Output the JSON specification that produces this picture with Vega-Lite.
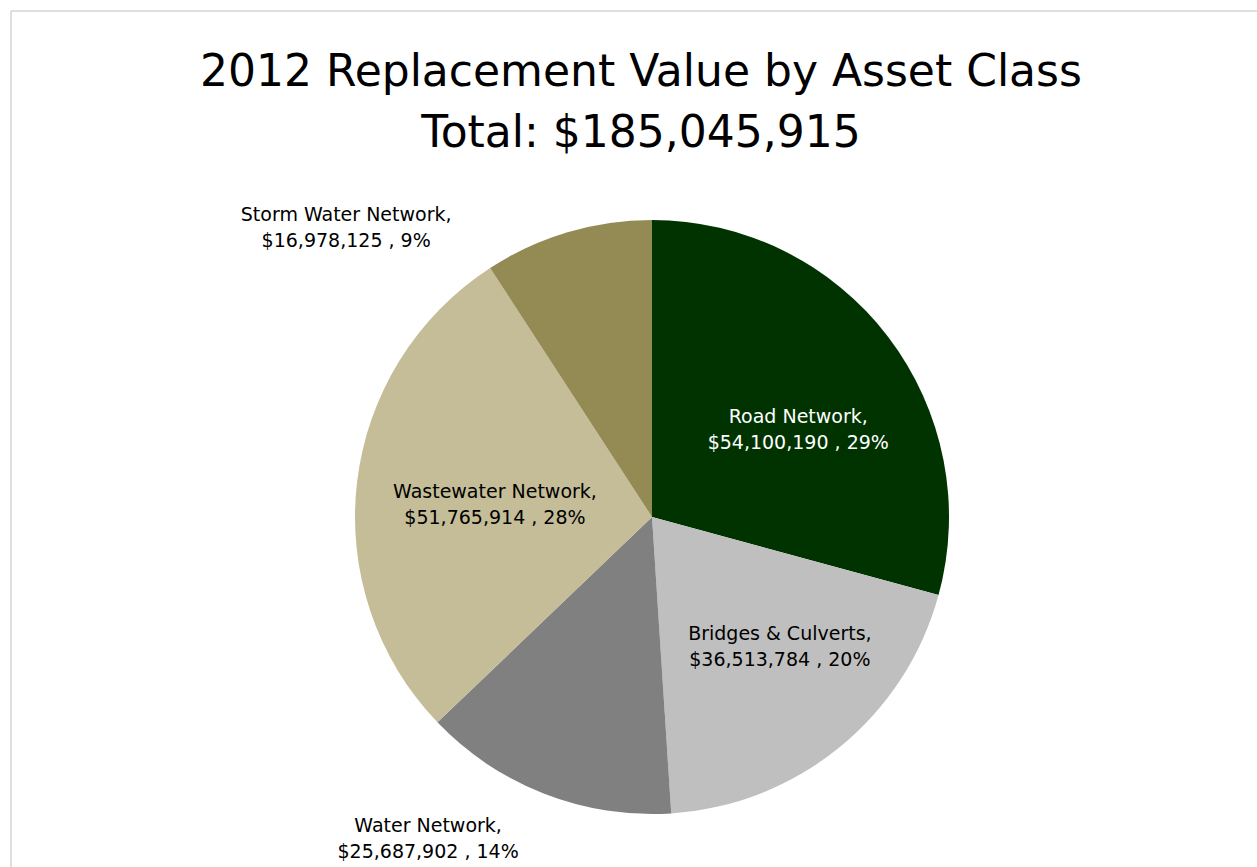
{
  "$schema": "https://vega.github.io/schema/vega-lite/v6.json",
  "autosize": "none",
  "width": 1282,
  "height": 1012,
  "padding": {"left": 11, "top": 11, "right": 0, "bottom": 0},
  "background": "white",
  "config": {
    "view": {"stroke": null},
    "font": "DejaVu Sans"
  },
  "title": {
    "text": ["2012 Replacement Value by Asset Class", "Total: $185,045,915"],
    "font": "DejaVu Sans",
    "fontSize": 44,
    "fontWeight": "normal",
    "color": "#000000",
    "anchor": "middle",
    "orient": "top",
    "offset": -180,
    "baseline": "alphabetic",
    "lineHeight": 61,
    "dx": -11
  },
  "data": {
    "values": [
      {"idx": 1, "category": "Road Network", "value": 54100190, "label": "Road Network,\n$54,100,190 , 29%"},
      {"idx": 2, "category": "Bridges & Culverts", "value": 36513784, "label": "Bridges & Culverts,\n$36,513,784 , 20%"},
      {"idx": 3, "category": "Water Network", "value": 25687902, "label": "Water Network,\n$25,687,902 , 14%"},
      {"idx": 4, "category": "Wastewater Network", "value": 51765914, "label": "Wastewater Network,\n$51,765,914 , 28%"},
      {"idx": 5, "category": "Storm Water Network", "value": 16978125, "label": "Storm Water Network,\n$16,978,125 , 9%"}
    ]
  },
  "layer": [
    {
      "data": {"values": [{"frame": 1}]},
      "mark": {"type": "rect", "fill": "transparent", "stroke": "#BFBFBF", "strokeWidth": 1},
      "encoding": {}
    },
    {
      "mark": {"type": "arc", "radius": 297},
      "encoding": {
        "theta": {"field": "value", "type": "quantitative", "stack": true},
        "order": {"field": "idx", "type": "quantitative"},
        "color": {
          "field": "category",
          "type": "nominal",
          "scale": {
            "domain": ["Road Network", "Bridges & Culverts", "Water Network", "Wastewater Network", "Storm Water Network"],
            "range": ["#003300", "#BFBFBF", "#808080", "#C4BD97", "#948A54"]
          },
          "legend": null
        }
      }
    },
    {
      "mark": {"type": "text", "radius": 177, "thetaOffset": 0.054, "fontSize": 19, "lineBreak": "\n", "lineHeight": 26, "align": "center", "baseline": "middle", "font": "DejaVu Sans", "color": "#FFFFFF"},
      "encoding": {
        "theta": {"field": "value", "type": "quantitative", "stack": true},
        "order": {"field": "idx", "type": "quantitative"},
        "text": {
          "condition": {"test": "datum.category === 'Road Network'", "field": "label", "type": "nominal"},
          "value": ""
        }
      }
    },
    {
      "mark": {"type": "text", "radius": 173, "thetaOffset": -0.147, "fontSize": 19, "lineBreak": "\n", "lineHeight": 26, "align": "center", "baseline": "middle", "font": "DejaVu Sans", "color": "#000000"},
      "encoding": {
        "theta": {"field": "value", "type": "quantitative", "stack": true},
        "order": {"field": "idx", "type": "quantitative"},
        "text": {
          "condition": {"test": "datum.category === 'Bridges & Culverts'", "field": "label", "type": "nominal"},
          "value": ""
        }
      }
    },
    {
      "mark": {"type": "text", "radius": 159, "thetaOffset": 0.042, "fontSize": 19, "lineBreak": "\n", "lineHeight": 26, "align": "center", "baseline": "middle", "font": "DejaVu Sans", "color": "#000000"},
      "encoding": {
        "theta": {"field": "value", "type": "quantitative", "stack": true},
        "order": {"field": "idx", "type": "quantitative"},
        "text": {
          "condition": {"test": "datum.category === 'Wastewater Network'", "field": "label", "type": "nominal"},
          "value": ""
        }
      }
    },
    {
      "mark": {"type": "text", "radius": 430, "thetaOffset": -0.503, "fontSize": 19, "lineBreak": "\n", "lineHeight": 26, "align": "center", "baseline": "middle", "font": "DejaVu Sans", "color": "#000000"},
      "encoding": {
        "theta": {"field": "value", "type": "quantitative", "stack": true},
        "order": {"field": "idx", "type": "quantitative"},
        "text": {
          "condition": {"test": "datum.category === 'Storm Water Network'", "field": "label", "type": "nominal"},
          "value": ""
        }
      }
    },
    {
      "mark": {"type": "text", "radius": 382, "thetaOffset": 0.255, "fontSize": 19, "lineBreak": "\n", "lineHeight": 26, "align": "center", "baseline": "middle", "font": "DejaVu Sans", "color": "#000000"},
      "encoding": {
        "theta": {"field": "value", "type": "quantitative", "stack": true},
        "order": {"field": "idx", "type": "quantitative"},
        "text": {
          "condition": {"test": "datum.category === 'Water Network'", "field": "label", "type": "nominal"},
          "value": ""
        }
      }
    }
  ]
}
